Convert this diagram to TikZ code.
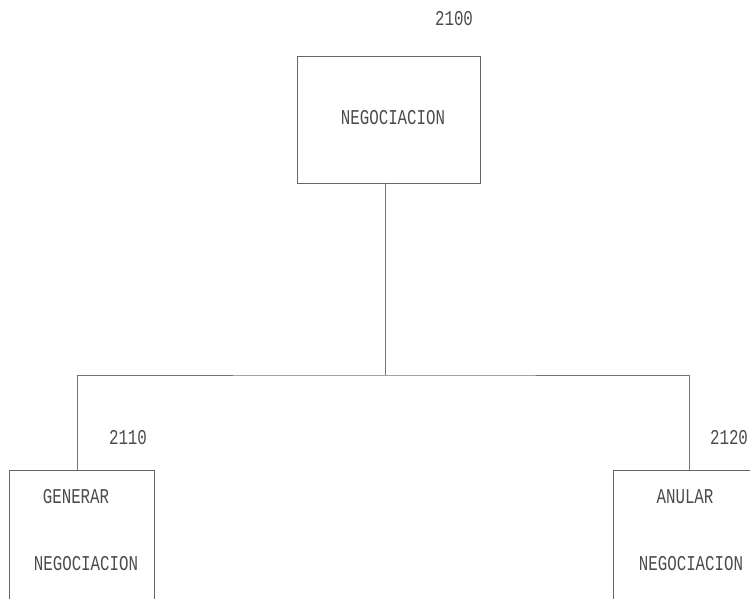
\documentclass[tikz,border=0pt]{standalone}
\usepackage{fontspec}
\newfontfamily\plotfont[FakeStretch=0.75]{Liberation Mono}
\usetikzlibrary{positioning}
\tikzset{
  modbox/.style={draw=black!60,line width=0.5pt,minimum width=#1,minimum height=140*0.02cm,inner sep=0pt},
  modtext/.style={font=\plotfont\fontsize{12}{12}\selectfont,text=black!70,inner sep=0pt},
  link/.style={draw=black!55,line width=0.5pt}
}
\newcommand{\newModule}[3]{\node[modbox=#3](#1) at #2 {};}
\begin{document}
\begin{tikzpicture}[x=0.02cm,y=-0.02cm]
  \useasboundingbox (0,0) rectangle (750,598);
  \clip (0,0) rectangle (750,598);
  % top module
  \node[modbox=183*0.02cm,minimum height=127*0.02cm](neg) at (388.5,119.5) {};
  \node[modtext](negtxt) at (393,118) {NEGOCIACION};
  \node[modtext](negnum) at (454,19) {2100};
  % children
  \newModule{gen}{(81.5,540)}{145*0.02cm}
  \newModule{anu}{(685.5,540)}{145*0.02cm}
  \node[modtext](gena) at (76,497) {GENERAR};
  \node[modtext](genb) at (86,564) {NEGOCIACION};
  \node[modtext](genum) at (128,438) {2110};
  \node[modtext](anua) at (685,497) {ANULAR};
  \node[modtext](anub) at (691,564) {NEGOCIACION};
  \node[modtext](anunum) at (729,438) {2120};
  % connectors
  \coordinate (bus) at (385,375);
  \coordinate (genjoin) at (77,470);
  \coordinate (anujoin) at (689,470);
  \draw[link] (neg.south -| bus) -- (bus);
  \draw[link] (genjoin) |- (bus) -| (anujoin);
\end{tikzpicture}
\end{document}
